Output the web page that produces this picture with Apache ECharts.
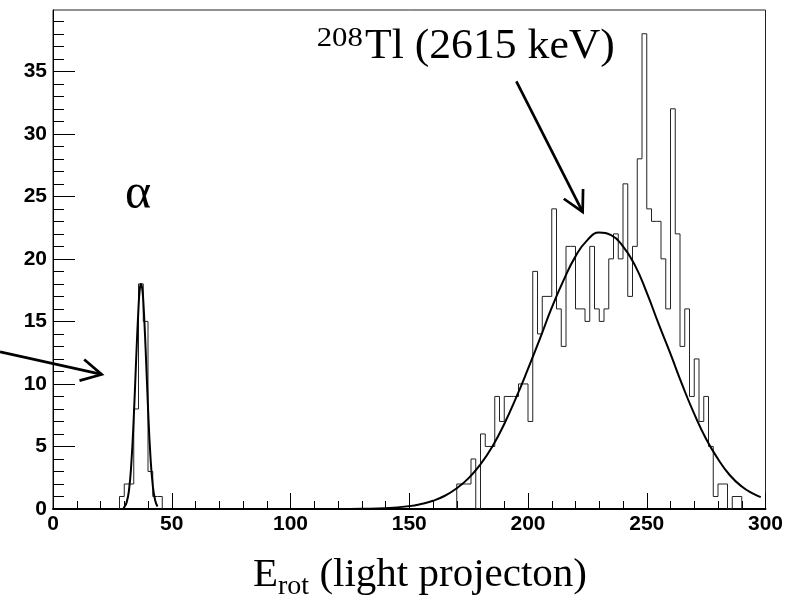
<!DOCTYPE html>
<html><head><meta charset="utf-8">
<script src="https://cdn.jsdelivr.net/npm/echarts@6/dist/echarts.min.js"></script>
<style>html,body{margin:0;padding:0;background:#fff}#c{width:808px;height:599px}</style>
</head><body><div id="c"></div>
<script>
// ---- data ----
const binWidth = 2;
const alphaStart = 28;
const alphaCounts = [1, 2, 2, 8, 18, 15, 3, 1, 1];
const tlStart = 170;
const tlCounts = [2, 2, 2, 4, 0, 6, 5, 5, 9, 7,
                  9, 9, 9, 10, 10, 7, 19, 14, 17, 17,
                  24, 16, 13, 21, 21, 16, 16, 15, 21, 16,
                  15, 16, 20, 22, 20, 26, 17, 21, 28, 38,
                  24, 23, 23, 20, 16, 32, 22, 13, 16, 9,
                  12, 7, 9, 5, 1, 2, 2, 0, 1, 1];
const alphaFitX = [29.5, 30, 31, 32, 33, 34, 35, 36, 36.5, 37, 37.5, 38, 39, 40, 41, 42, 43, 44];
const alphaFitY = [0.08, 0.15, 0.53, 1.5, 3.7, 7.3, 11.9, 16.1, 17.5, 18.0, 17.7, 16.7, 12.8, 8.1, 4.3, 1.9, 0.7, 0.2];
const tlFitX = [120, 130, 140, 150, 155, 160, 165, 170, 175, 180, 185, 190, 195, 200, 205, 210, 215, 220, 225, 230,
                235, 240, 245, 250, 255, 260, 265, 270, 275, 280, 285, 290, 295, 298];
const tlFitY = [0.0, 0.02, 0.07, 0.23, 0.4, 0.66, 1.06, 1.66, 2.47, 3.58, 5.0, 6.8, 8.9, 11.2, 13.6, 16.1, 18.3, 20.2, 21.5, 22.1,
                21.9, 21.0, 19.5, 17.3, 14.8, 12.4, 9.9, 7.6, 5.6, 4.0, 2.7, 1.8, 1.2, 0.95];
const xTicks = [0, 50, 100, 150, 200, 250, 300];
const yMajorTicks = [0, 5, 10, 15, 20, 25, 30, 35];
const yMinorTicks = [1, 2, 3, 4, 6, 7, 8, 9, 11, 12, 13, 14, 16, 17, 18, 19, 21, 22, 23, 24,
                     26, 27, 28, 29, 31, 32, 33, 34, 36, 37, 38, 39];
const yMax = 39.9;
const xTitleMain = 'E', xTitleSub = 'rot', xTitleRest = ' (light projecton)';
const peakLabelSup = '208', peakLabelMain = 'Tl (2615 keV)';
const alphaLabel = 'α';
// arrows in data units: tail -> tip
const arrowsData = [
  { from: [-22.3, 12.56], to: [20.5, 10.76] },
  { from: [195.1, 34.2], to: [223.0, 23.75] }
];

function stepOutline(start, counts) {
  const pts = [[start, 0]];
  counts.forEach((c, i) => {
    const lo = start + i * binWidth;
    pts.push([lo, c], [lo + binWidth, c]);
  });
  pts.push([start + counts.length * binWidth, 0]);
  return pts;
}
const zip = (a, b) => a.map((v, i) => [v, b[i]]);

const chart = echarts.init(document.getElementById('c'), null, { renderer: 'canvas' });
const labelFont = { fontFamily: '"Liberation Sans", Arial, sans-serif', fontWeight: 'bold', fontSize: 21, color: '#000' };
chart.setOption({
  animation: false,
  backgroundColor: '#fff',
  grid: { left: 53, top: 10, right: 42.5, bottom: 90, show: true, borderColor: '#222', borderWidth: 1, backgroundColor: 'transparent' },
  xAxis: {
    type: 'value', min: 0, max: 300, interval: 50,
    axisLine: { lineStyle: { color: '#000', width: 2 } },
    axisTick: { inside: true, length: 16, lineStyle: { color: '#000', width: 1 } },
    minorTick: { show: true, splitNumber: 5, length: 8, lineStyle: { color: '#000', width: 1 } },
    axisLabel: Object.assign({ margin: 5, customValues: xTicks }, labelFont),
    splitLine: { show: false }
  },
  yAxis: [{
    type: 'value', min: 0, max: yMax,
    axisLine: { show: true, lineStyle: { color: '#000', width: 1 } },
    axisTick: { show: true, inside: true, length: 22, customValues: yMajorTicks, lineStyle: { color: '#000', width: 1 } },
    axisLabel: Object.assign({ margin: 6, customValues: yMajorTicks }, labelFont),
    splitLine: { show: false }
  }, {
    type: 'value', min: 0, max: yMax, position: 'left',
    axisLine: { show: false },
    axisTick: { show: true, inside: true, length: 11, customValues: yMinorTicks, lineStyle: { color: '#000', width: 1 } },
    axisLabel: { show: false },
    splitLine: { show: false }
  }],
  series: [
    { type: 'line', data: stepOutline(alphaStart, alphaCounts), symbol: 'none', lineStyle: { color: '#222', width: 1 }, z: 2 },
    { type: 'line', data: stepOutline(tlStart, tlCounts), symbol: 'none', lineStyle: { color: '#222', width: 1 }, z: 2 },
    { type: 'line', data: zip(alphaFitX, alphaFitY), symbol: 'none', smooth: true, lineStyle: { color: '#000', width: 2 }, z: 3 },
    { type: 'line', data: zip(tlFitX, tlFitY), symbol: 'none', smooth: true, lineStyle: { color: '#000', width: 2 }, z: 3 }
  ]
});

// ---- annotations ----
const serif = '"Liberation Serif", "Times New Roman", serif';
const mctx = document.createElement('canvas').getContext('2d');
function measure(str, fs) { mctx.font = fs + 'px ' + serif; return mctx.measureText(str).width; }
function txt(str, left, baseline, fs, scaleX) {
  return {
    type: 'text', x: left, y: baseline - 0.3375 * fs, scaleX: scaleX || 1, z: 100,
    style: { text: str, x: 0, y: 0, font: fs + 'px ' + serif, fill: '#000',
             align: 'left', verticalAlign: 'middle', textAlign: 'left', textVerticalAlign: 'middle' }
  };
}
const px = (p) => chart.convertToPixel({ gridIndex: 0 }, p);
const graphics = [];
arrowsData.forEach(a => {
  const f = px(a.from), t = px(a.to);
  graphics.push({ type: 'line', z: 100, shape: { x1: f[0], y1: f[1], x2: t[0], y2: t[1] }, style: { stroke: '#000', lineWidth: 2.7 } });
  const back = Math.atan2(f[1] - t[1], f[0] - t[0]);
  const L = 23, ang = 28 * Math.PI / 180;
  const p1 = [t[0] + L * Math.cos(back + ang), t[1] + L * Math.sin(back + ang)];
  const p2 = [t[0] + L * Math.cos(back - ang), t[1] + L * Math.sin(back - ang)];
  graphics.push({ type: 'polyline', z: 100, shape: { points: [p1, t, p2] }, style: { stroke: '#000', lineWidth: 2.7, fill: null } });
});
// alpha label
graphics.push(txt(alphaLabel, 125, 212, 50));
// 208Tl label
graphics.push(txt(peakLabelSup, 316.7, 48, 28, 1.1));
graphics.push(txt(peakLabelMain, 365, 61.5, 42, 1.04));
// x-axis title
let tx = 253;
graphics.push(txt(xTitleMain, tx, 589, 41));
tx += measure(xTitleMain, 41);
graphics.push(txt(xTitleSub, tx, 596, 28));
tx += measure(xTitleSub, 28);
graphics.push(txt(xTitleRest, tx, 589, 41));
chart.setOption({ graphic: graphics });
</script>
</body></html>
